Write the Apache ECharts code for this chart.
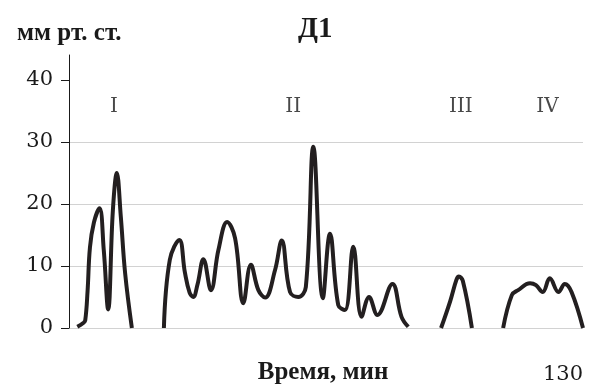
<!DOCTYPE html>
<html><head><meta charset="utf-8">
<script src="https://cdn.jsdelivr.net/npm/echarts@6/dist/echarts.min.js"></script>
<style>html,body{margin:0;padding:0;background:#fff}#c{width:597px;height:392px}</style>
</head><body><div id="c"></div>
<script>
// Time (min) and pressure (mm Hg); null separates the four phases
var timeMin = [
  2.1, 3.6, 4.1, 4.7, 5.3, 6.3, 7.7, 8.8, 9.9, 11.1, 12.1, 13.1, 14.2, 15.9,
  20,
  24.0, 25.5, 27.9, 29.3, 30.5, 31.4, 32.5, 34.0, 35.9, 37.8, 40.0, 42.0, 44.1, 46.0, 47.9, 49.6, 52.1, 53.8, 55.9, 58.0, 59.9, 61.8, 64.2, 66.0, 68.1, 69.8, 71.9, 74.0, 75.9, 78.0, 81.8, 84.1, 85.8,
  90,
  94.1, 96.4, 98.0, 98.6, 99.6, 101.9,
  106,
  109.8, 112.0, 113.6, 116.6, 118.1, 119.8, 121.6, 123.8, 125.4, 127.1, 130
];
var pressure = [
  0.2, 0.8, 1.2, 6, 13, 17, 19.3, 12.5, 3, 19, 25, 18, 8.8, 0,
  null,
  0, 11, 14.2, 9, 5.7, 5.0, 7, 11.1, 6.1, 12.6, 17.1, 14.5, 4.0, 10.2, 6.1, 4.9, 9.3, 14.1, 5.8, 5.0, 6.6, 29.2, 4.8, 15.2, 3.7, 2.9, 13.1, 1.8, 5.0, 2.1, 7.1, 1.8, 0.2,
  null,
  0, 4.3, 7.8, 8.3, 7.6, 0,
  null,
  0, 5.3, 6.1, 7.2, 6.9, 5.8, 8.0, 5.8, 7.1, 5.8, 0
];
var phaseNames = ['I', 'II', 'III', 'IV'];
var phaseX = [11.4, 56.7, 99.1, 121];
var phaseY = [35.7, 35.7, 35.7, 35.7];
var yTicks = [0, 10, 20, 30, 40];
var xTicks = [130];

var lineData = timeMin.map(function (t, i) { return [t, pressure[i]]; });
var phaseData = phaseNames.map(function (n, i) { return { value: [phaseX[i], phaseY[i]], name: n }; });

var ink = '#1a1a1a';
var chart = echarts.init(document.getElementById('c'), null, { renderer: 'canvas' });
chart.setOption({
  animation: false,
  backgroundColor: '#fff',
  title: [
    { text: 'Д1', left: 293, top: 10, textStyle: { fontFamily: 'Liberation Serif', fontWeight: 'bold', fontSize: 29, color: ink } },
    { text: 'мм рт. ст.', left: 12, top: 16, textStyle: { fontFamily: 'Liberation Serif', fontWeight: 'bold', fontSize: 25, color: ink } }
  ],
  grid: { left: 69, right: 14, top: 55, bottom: 64, containLabel: false, outerBoundsMode: 'none' },
  xAxis: {
    type: 'value', min: 0, max: 130,
    axisLine: { show: false }, axisTick: { show: false }, splitLine: { show: false },
    axisLabel: { customValues: xTicks, align: 'right', margin: 36, fontFamily: 'DejaVu Serif', fontSize: 21, color: ink },
    name: 'Время, мин', nameLocation: 'middle', nameGap: 32, nameMoveOverlap: false,
    nameTextStyle: { fontFamily: 'Liberation Serif', fontWeight: 'bold', fontSize: 25, color: ink, verticalAlign: 'top', padding: [0, 6, 0, 0] }
  },
  yAxis: {
    type: 'value', min: 0, max: 44, interval: 10,
    axisLine: { show: true, lineStyle: { color: ink, width: 1 } },
    axisTick: { show: true, customValues: yTicks, length: 8, lineStyle: { color: ink } },
    axisLabel: { customValues: yTicks, margin: 16, fontFamily: 'DejaVu Serif', fontSize: 21, color: ink },
    splitLine: { show: true, showMaxLine: false, lineStyle: { color: '#d2d2d2', width: 1 } }
  },
  series: [
    {
      type: 'line', data: lineData, smooth: 0.4, connectNulls: false, showSymbol: false,
      lineStyle: { color: '#231f20', width: 4 }, itemStyle: { color: '#231f20' }
    },
    {
      type: 'scatter', data: phaseData, symbolSize: 0, silent: true,
      label: { show: true, position: 'inside', formatter: '{b}', fontFamily: 'DejaVu Serif', fontSize: 20, color: ink }
    }
  ]
});
</script></body></html>
